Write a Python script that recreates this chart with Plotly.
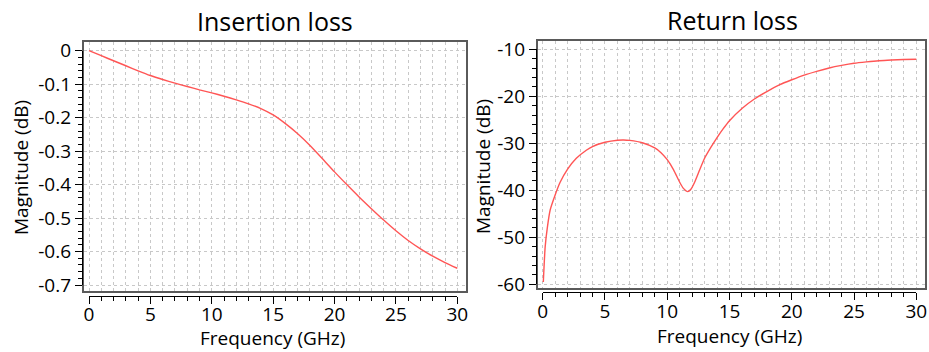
import plotly.graph_objects as go

# ---------------- data ----------------
FREQ_IL = [0, 1, 2, 3, 4, 5, 6, 7, 8, 9, 10, 11, 12, 13, 14, 15, 16, 17, 18, 19,
           20, 21, 22, 23, 24, 25, 26, 27, 28, 29, 30]
IL_DB = [0.000, -0.015, -0.030, -0.045, -0.060, -0.074, -0.086, -0.097, -0.107, -0.117,
         -0.126, -0.136, -0.147, -0.159, -0.173, -0.192, -0.218, -0.248, -0.283, -0.322,
         -0.362, -0.400, -0.437, -0.472, -0.506, -0.538, -0.567, -0.592, -0.614, -0.633,
         -0.650]

FREQ_RL = [0.05, 0.2, 0.37, 0.6, 1.0, 1.4, 2.0, 2.7, 3.5, 4.0, 5.0, 6.0, 6.5, 7.0, 8.0,
           9.0, 9.5, 10.0, 10.5, 11.0, 11.3, 11.65, 11.9, 12.2, 12.6, 13.0, 13.5, 14.0,
           14.5, 15.0, 16.0, 17.0, 18.0, 19.0, 20.0, 21.0, 22.0, 23.0, 24.0, 25.0, 26.0,
           27.0, 28.0, 29.0, 30.0]
RL_DB = [-59.5, -52.0, -48.0, -44.2, -41.0, -38.3, -35.5, -33.2, -31.5, -30.7, -29.8,
         -29.35, -29.3, -29.4, -29.9, -31.0, -32.0, -33.5, -35.6, -38.3, -39.6, -40.3,
         -39.8, -38.3, -35.7, -33.2, -30.9, -28.8, -26.9, -25.2, -22.6, -20.6, -19.0,
         -17.6, -16.5, -15.5, -14.7, -14.0, -13.45, -13.0, -12.7, -12.45, -12.3, -12.2,
         -12.15]

X_TICKS = [0, 5, 10, 15, 20, 25, 30]
X_TICKTEXT = ["0", "5", "10", "15", "20", "25", "30"]
IL_YTICKS = [0, -0.1, -0.2, -0.3, -0.4, -0.5, -0.6, -0.7]
IL_YTICKTEXT = ["0", "-0.1", "-0.2", "-0.3", "-0.4", "-0.5", "-0.6", "-0.7"]
RL_YTICKS = [-10, -20, -30, -40, -50, -60]
RL_YTICKTEXT = ["-10", "-20", "-30", "-40", "-50", "-60"]

TITLES = ["Insertion loss", "Return loss"]
XLABEL = "Frequency (GHz)"
YLABEL = "Magnitude (dB)"

# ---------------- layout constants (pixels) ----------------
W, H = 929, 352
FONT = "Open Sans"
LINE_COLOR = "rgb(255,85,85)"
GRID_COLOR = "rgb(200,200,200)"
FRAME_COLOR = "#5a5a5a"


def fx(p):
    return p / W


def fy(p):
    return 1 - p / H


def lin(a, b, pa, pb, p):
    return a + (p - pa) * (b - a) / (pb - pa)


panels = [
    dict(xr=(0, 30), xpx=(89, 457.3), fxpx=(84, 466),
         yr=(0, -0.7), ypx=(50.7, 285), fypx=(42, 291),
         yaxis_x=82, xaxis_y=295.7, xstand=-6,
         ydt=0.1, ymin=0.02, ytv=IL_YTICKS, ytt=IL_YTICKTEXT,
         xdata=FREQ_IL, ydata=IL_DB, smooth=0.6),
    dict(xr=(0, 30), xpx=(542.7, 916.3), fxpx=(538, 925),
         yr=(-10, -60), ypx=(49.2, 284.3), fypx=(41, 288),
         yaxis_x=536, xaxis_y=292.3, xstand=-5,
         ydt=10, ymin=2, ytv=RL_YTICKS, ytt=RL_YTICKTEXT,
         xdata=FREQ_RL, ydata=RL_DB, smooth=0.6),
]

fig = go.Figure()
layout = dict(width=W, height=H, margin=dict(l=0, r=0, t=0, b=0, autoexpand=False),
              paper_bgcolor="white", plot_bgcolor="rgba(0,0,0,0)",
              showlegend=False, font=dict(family=FONT, color="black"))

for i, p in enumerate(panels):
    gx = 2 * i + 1  # grid/frame subplot
    dx = 2 * i + 2  # axis display subplot
    gxn = "xaxis" if gx == 1 else f"xaxis{gx}"
    gyn = "yaxis" if gx == 1 else f"yaxis{gx}"
    dxn, dyn = f"xaxis{dx}", f"yaxis{dx}"
    gxr = "x" if gx == 1 else f"x{gx}"
    gyr = "y" if gx == 1 else f"y{gx}"

    xr_ext = [lin(p["xr"][0], p["xr"][1], p["xpx"][0], p["xpx"][1], p["fxpx"][0]),
              lin(p["xr"][0], p["xr"][1], p["xpx"][0], p["xpx"][1], p["fxpx"][1])]
    yr_ext = [lin(p["yr"][0], p["yr"][1], p["ypx"][0], p["ypx"][1], p["fypx"][1]),
              lin(p["yr"][0], p["yr"][1], p["ypx"][0], p["ypx"][1], p["fypx"][0])]

    layout[gxn] = dict(domain=[fx(p["fxpx"][0]), fx(p["fxpx"][1])], range=xr_ext,
                       anchor=gyr, showticklabels=False, ticks="", zeroline=False,
                       automargin=False,
                       showgrid=True, gridcolor=GRID_COLOR, griddash="dot", gridwidth=1,
                       tickmode="linear", tick0=0, dtick=1,
                       showline=True, mirror=True, linecolor=FRAME_COLOR, linewidth=1.5)
    layout[gyn] = dict(domain=[fy(p["fypx"][1]), fy(p["fypx"][0])], range=yr_ext,
                       anchor=gxr, showticklabels=False, ticks="", zeroline=False,
                       automargin=False,
                       showgrid=True, gridcolor=GRID_COLOR, griddash="dot", gridwidth=1,
                       tickmode="linear", tick0=0, dtick=p["ydt"],
                       showline=True, mirror=True, linecolor=FRAME_COLOR, linewidth=1.5)

    layout[dxn] = dict(domain=[fx(p["xpx"][0]), fx(p["xpx"][1])], range=list(p["xr"]),
                       anchor="free", position=fy(p["xaxis_y"]), automargin=False,
                       showgrid=False, zeroline=False, showline=True, linecolor="black",
                       linewidth=1.2, ticks="outside", ticklen=7, tickwidth=1.2,
                       tickcolor="black", tickmode="array", tickvals=X_TICKS,
                       ticktext=X_TICKTEXT, tickfont=dict(size=19, family=FONT),
                       ticklabelstandoff=p["xstand"],
                       minor=dict(ticks="outside", ticklen=4, tickwidth=1.2,
                                  tickcolor="black", tickmode="linear", tick0=0, dtick=1,
                                  showgrid=False))
    layout[dyn] = dict(domain=[fy(p["ypx"][1]), fy(p["ypx"][0])],
                       range=[p["yr"][1], p["yr"][0]],
                       anchor="free", position=fx(p["yaxis_x"]), automargin=False,
                       showgrid=False, zeroline=False, showline=True, linecolor="black",
                       linewidth=1.2, ticks="outside", ticklen=7, tickwidth=1.2,
                       tickcolor="black", tickmode="array", tickvals=p["ytv"],
                       ticktext=p["ytt"], tickfont=dict(size=19, family=FONT),
                       minor=dict(ticks="outside", ticklen=4, tickwidth=1.2,
                                  tickcolor="black", tickmode="linear", tick0=0,
                                  dtick=p["ymin"], showgrid=False))

    # invisible trace to establish the axis-display subplot
    fig.add_trace(go.Scatter(x=list(p["xr"]), y=list(p["yr"]), mode="markers",
                             marker=dict(opacity=0), hoverinfo="skip",
                             xaxis=f"x{dx}", yaxis=f"y{dx}"))
    # data trace
    fig.add_trace(go.Scatter(x=p["xdata"], y=p["ydata"], mode="lines",
                             line=dict(color=LINE_COLOR, width=1.4, shape="spline",
                                       smoothing=p["smooth"]),
                             xaxis=gxr, yaxis=gyr))

annotations = [
    dict(text=TITLES[0], x=fx(275), y=fy(21.5), xref="paper", yref="paper",
         showarrow=False, font=dict(size=25, family=FONT), xanchor="center", yanchor="middle"),
    dict(text=TITLES[1], x=fx(732), y=fy(20.5), xref="paper", yref="paper",
         showarrow=False, font=dict(size=25, family=FONT), xanchor="center", yanchor="middle"),
    dict(text=XLABEL, x=fx(272.5), y=fy(338), xref="paper", yref="paper", borderpad=0,
         showarrow=False, font=dict(size=19, family=FONT), xanchor="center", yanchor="middle"),
    dict(text=XLABEL, x=fx(729.5), y=fy(336), xref="paper", yref="paper", borderpad=0,
         showarrow=False, font=dict(size=19, family=FONT), xanchor="center", yanchor="middle"),
    dict(text=YLABEL, x=fx(21), y=fy(168), xref="paper", yref="paper", textangle=-90,
         showarrow=False, font=dict(size=19, family=FONT), xanchor="center", yanchor="middle"),
    dict(text=YLABEL, x=fx(483), y=fy(167), xref="paper", yref="paper", textangle=-90,
         showarrow=False, font=dict(size=19, family=FONT), xanchor="center", yanchor="middle"),
]
layout["annotations"] = annotations
fig.update_layout(**layout)
fig.write_html("out.html")
